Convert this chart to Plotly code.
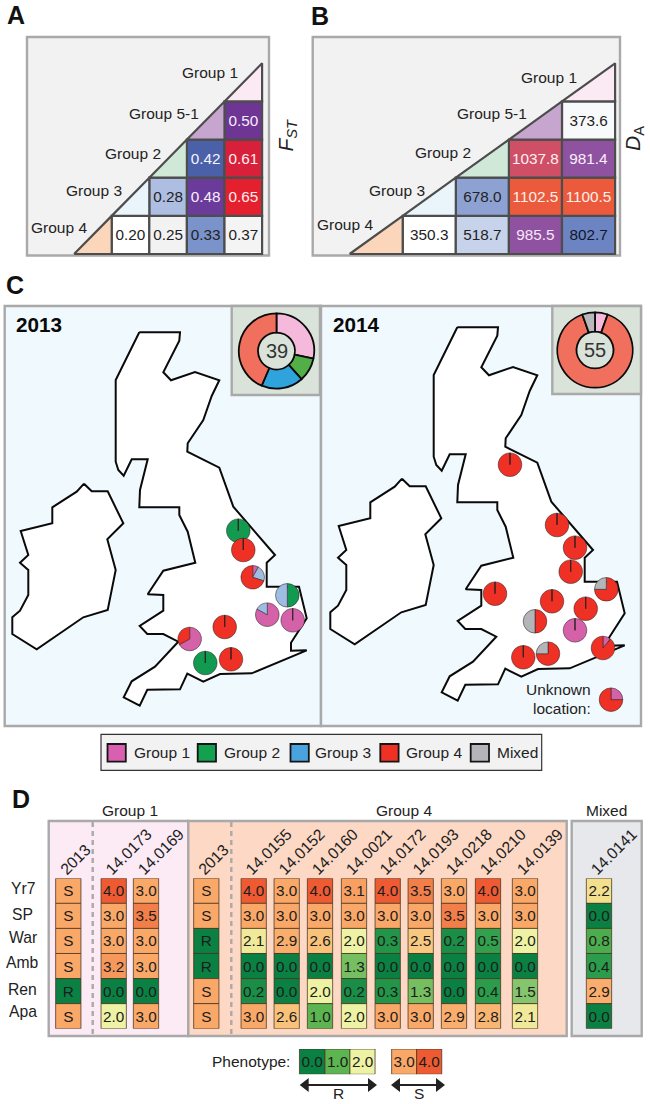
import plotly.graph_objects as go

W, H = 650, 1104
FONT = "Liberation Sans"
INK = "#222222"

# ---------- Panels A / B: pairwise tables (rows from the bottom, right-aligned) ----------
TRI_GROUPS = ["Group 4", "Group 3", "Group 2", "Group 5-1", "Group 1"]
TRI_COLORS = ["#fbd6bb", "#e9f5fb", "#cfe8d8", "#c6a6cf", "#fbe9f3"]
FST_ROWS = [["0.20", "0.25", "0.33", "0.37"], ["0.28", "0.48", "0.65"], ["0.42", "0.61"], ["0.50"]]
FST_FILL = [["#ffffff", "#f2f2f2", "#7a93cb", "#f4f4f4"], ["#aebee2", "#6a3b9b", "#e4202f"],
            ["#4a60a8", "#d8203a"], ["#6e3595"]]
FST_TEXT = [[INK, INK, INK, INK], [INK, "#fbeefa", "#ffeef0"], ["#f2f4ff", "#fff0f2"], ["#f6eefc"]]
DA_ROWS = [["350.3", "518.7", "985.5", "802.7"], ["678.0", "1102.5", "1100.5"], ["1037.8", "981.4"], ["373.6"]]
DA_FILL = [["#ffffff", "#c7d3ea", "#8f52a1", "#6d84c2"], ["#8da2d2", "#ec5a3e", "#ec5a3e"],
           ["#cf4f66", "#8f52a1"], ["#f7f9fb"]]
DA_TEXT = [[INK, INK, "#f8e8f8", "#10162e"], [INK, "#fff0e8", "#fff0e8"], ["#fff0f2", "#fbeffb"], [INK]]

# ---------- Panel C: maps (map units) ----------
GB_X = [139.3, 180, 179.3, 163.3, 171, 195, 219.3, 211.7, 203.3, 187.7, 187.3, 219.3, 233.3, 275, 266.7, 266.7, 299,
        306.7, 291, 291, 306.7, 251.7, 220, 203.3, 187.3, 180, 147.3, 139.7, 123.7, 131.7, 155, 178.3, 163.3, 147.3,
        139.7, 163.3, 163.3, 147.7, 163.3, 195.3, 187.7, 179.3, 179.3, 139.3, 140, 147.7, 131.7, 123.7, 118.3, 115.7,
        115.7, 139.3]
GB_Y = [332.3, 332.3, 340.7, 372.3, 380.3, 372, 380.3, 396, 420, 443.3, 451.7, 467.7, 506.7, 555, 562.7, 586.7, 586.7,
        618.3, 642.7, 650.7, 650.3, 673.3, 674, 681.7, 673.7, 689.3, 689.7, 705.7, 697.3, 681.3, 666.7, 641.7, 634, 634,
        626, 610.7, 595, 594.3, 570.7, 562.7, 531.7, 515, 507.3, 507.3, 490, 459.3, 459.3, 475.7, 470, 461.7,
        380, 332.3]
IE_X = [84, 91.7, 107.7, 123.3, 107.3, 115.7, 107.7, 83.3, 36.7, 12.3, 12.3, 20, 28.3, 28.3, 20, 28.3, 20.7, 52.3, 52.3,
        76.7, 84]
IE_Y = [483.7, 491.3, 491.3, 523.3, 539.3, 570, 610, 617.3, 649.3, 634, 617.3, 610.7, 595, 570, 562.7, 555, 531, 523.3,
        507.3, 491.7, 483.7]

GROUPS = ["Group 1", "Group 2", "Group 3", "Group 4", "Mixed"]
PIE_COLORS = ["#d561a8", "#139a51", "#9dbde3", "#ee3124", "#b3b5b8"]
DONUT_COLORS = ["#f5b9dc", "#53ae47", "#2ea3dc", "#f0705d", "#b7b7bc"]
LEGEND_COLORS = ["#d95fb0", "#12a14e", "#4aa3df", "#ee3124", "#b3b5b8"]

PIE13_X = [238.3, 243.3, 252.7, 287.3, 267.3, 292.7, 224.7, 189.7, 231, 205.3]
PIE13_Y = [530.7, 550, 577.3, 595.3, 614.7, 620.3, 627, 639, 659.3, 663]
PIE13_SHARES = [[0, 1, 0, 0, 0], [0, 0, 0, 1, 0], [.08, 0, .22, .70, 0], [0, .5, .5, 0, 0], [.83, 0, .17, 0, 0],
                [1, 0, 0, 0, 0], [0, 0, 0, 1, 0], [.67, 0, 0, .33, 0], [0, 0, 0, 1, 0], [0, 1, 0, 0, 0]]
PIE14_X = [192, 239, 257, 252.7, 288.3, 177, 234, 267.7, 217, 257, 285, 205.3, 230, 293]
PIE14_Y = [469.7, 530, 552.7, 576.7, 594.3, 598.7, 606.3, 613.7, 626.3, 635.3, 653, 662.3, 658.7, 704.7]
PIE14_SHARES = [[0, 0, 0, 1, 0], [0, 0, 0, 1, 0], [0, 0, 0, 1, 0], [0, 0, 0, 1, 0], [0, 0, 0, .75, .25],
                [0, 0, 0, 1, 0], [0, 0, 0, 1, 0], [0, 0, 0, 1, 0], [0, 0, 0, .5, .5], [1, 0, 0, 0, 0],
                [.11, 0, 0, .89, 0], [0, 0, 0, 1, 0], [0, 0, 0, .75, .25], [.25, 0, 0, .75, 0]]
DONUT13 = [11, 4, 7, 17, 0]
DONUT14 = [3, 0, 0, 49, 3]

# ---------- Panel D ----------
ROWS = ["Yr7", "SP", "War", "Amb", "Ren", "Apa"]
COL_LABELS = ["2013", "14.0173", "14.0169", "2013", "14.0155", "14.0152", "14.0160", "14.0021", "14.0172", "14.0193",
              "14.0218", "14.0210", "14.0139", "14.0141"]
COL_X = [68.3, 113.7, 146, 206.3, 253.7, 286.7, 320, 354, 387.7, 420.7, 454, 488, 525, 599]
PHENO = [[3, 3, 3, 3, 0, 3], [4, 3, 3, 3.2, 0, 2], [3, 3.5, 3, 3, 0, 3], [3, 3, 0, 0, 3, 3],
         [4, 3, 2.1, 0, .2, 3], [3, 3, 2.9, 0, 0, 2.6], [4, 3, 2.6, 0, 2, 1], [3.1, 3, 2, 1.3, .2, 2],
         [4, 3, .3, 0, .3, 3], [3.5, 3, 2.5, 0, 1.3, 3], [3, 3.5, .2, 0, 0, 2.9], [4, 3, .5, 0, .4, 2.8],
         [3, 3, 2, 0, 1.5, 2.1], [2.2, 0, .8, .4, 2.9, 0]]
PHENO_TEXT = [list("SSSSRS"), None, None, list("SSRRSS")] + [None] * 10
SCALE = [[0, "#0a8043"], [.1, "#2a9c4b"], [.25, "#5cb550"], [.375, "#85c56d"], [.5, "#eef2a4"],
         [.55, "#f3e08f"], [.625, "#f8c880"], [.75, "#f9a868"], [.875, "#f27f4a"], [1, "#ee5a32"]]
KEY_VALUES = [0, 1, 2, 3, 4]
KEY_X = [312, 337.5, 362.5, 404.2, 429.2]
KEY_SPANS = {"R": (301.7, 375), "S": (393, 443)}


def fx(x):
    return x / W


def fy(y):
    return 1 - y / H


shapes, annos, traces = [], [], []
layout_axes = {}


def make_axes(n, left, right, top, bottom, xr, yr, **xkw):
    sx = "" if n == 1 else str(n)
    layout_axes["xaxis" + sx] = dict(domain=[fx(left), fx(right)], range=xr, anchor="y" + sx, showgrid=False,
                                     zeroline=False, showticklabels=False, ticks="", fixedrange=True, **xkw)
    layout_axes["yaxis" + sx] = dict(domain=[fy(bottom), fy(top)], range=yr, anchor="x" + sx, showgrid=False,
                                     zeroline=False, showticklabels=False, ticks="", fixedrange=True)
    return "x" + sx, "y" + sx


def rect(x0, y0, x1, y1, fill, line="#a9a9a9", width=2.4):
    shapes.append(dict(type="rect", xref="paper", yref="paper", x0=fx(x0), x1=fx(x1), y0=fy(y0), y1=fy(y1),
                       fillcolor=fill, line=dict(color=line, width=width), layer="below"))


def text(x, y, s, size=15.5, color=INK, anchor="center", **kw):
    annos.append(dict(xref="paper", yref="paper", x=fx(x), y=fy(y), text=s, showarrow=False, xanchor=anchor,
                      yanchor="middle", font=dict(family=FONT, size=size, color=color), **kw))


def pairwise(n, panel, x0_px, unit, rows, fills, inks, labels):
    left, top, right, bottom = panel
    rect(left, top, right, bottom, "#f2f2f2")
    row_h = 38.14
    base_px = 254
    xr = [(left - x0_px) / unit, (right - x0_px) / unit]
    yr = [(base_px - bottom) / row_h, (base_px - top) / row_h]
    xa, ya = make_axes(n, left, right, top, bottom, xr, yr)
    bx, bb, bt, bf, bc = [], [], [], [], []
    for r, row in enumerate(rows):
        start = 4 - len(row)
        for c, val in enumerate(row):
            bx.append(start + c + .5)
            bb.append(r)
            bt.append(val)
            bf.append(fills[r][c])
            bc.append(inks[r][c])
    traces.append(go.Bar(x=bx, y=[1] * len(bx), base=bb, width=1, text=bt, textposition="inside", textangle=0,
                         insidetextanchor="middle", constraintext="none", cliponaxis=False,
                         textfont=dict(family=FONT, size=15.3, color=bc),
                         marker=dict(color=bf, line=dict(color="#4d4d4d", width=2.2)),
                         xaxis=xa, yaxis=ya, hoverinfo="skip", showlegend=False))
    for i, col in enumerate(TRI_COLORS):
        traces.append(go.Scatter(x=[i - 1, i, i, i - 1], y=[i, i, i + 1, i], mode="lines", fill="toself",
                                 fillcolor=col, line=dict(color="#4d4d4d", width=2.2), xaxis=xa, yaxis=ya,
                                 hoverinfo="skip", showlegend=False, cliponaxis=False))
    for name, (lx, ly) in zip(TRI_GROUPS, labels):
        text(lx, ly, name)


pairwise(1, (27, 37, 269, 255.5), 111.7, 37.6, FST_ROWS, FST_FILL, FST_TEXT,
         [(58.7, 227.3), (94, 190.7), (133, 153.3), (164, 113.7), (210.3, 72.3)])
pairwise(2, (312.7, 37, 620, 255.5), 402.7, 53.1, DA_ROWS, DA_FILL, DA_TEXT,
         [(344.5, 224), (397, 190), (442.7, 152.7), (491.7, 113.7), (548.8, 77)])
text(15.7, 15, "<b>A</b>", 25, "#111111")
text(320, 15.7, "<b>B</b>", 25, "#111111")
text(286, 135.5, "<i>F<sub>ST</sub></i>", 21, textangle=-90)
text(634, 139, "<i>D</i><sub>A</sub>", 21, textangle=-90)

# ---------- Panel C ----------
text(15, 285, "<b>C</b>", 25, "#111111")
DX14, DY14 = 318, -5


def map_panel(n, left, right, dx, dy, year, year_x, inset, donut, dc, count):
    top, bottom = 306, 726
    rect(left, top, right, bottom, "#f0f9fd")
    xa, ya = make_axes(n, left, right, top, bottom, [left - dx, right - dx], [bottom - dy, top - dy])
    for xs, ys in ((GB_X, GB_Y), (IE_X, IE_Y)):
        traces.append(go.Scatter(x=xs, y=ys, mode="lines", fill="toself", fillcolor="white",
                                 line=dict(color="#0a0a0a", width=2), xaxis=xa, yaxis=ya, hoverinfo="skip",
                                 showlegend=False))
    rect(*inset, "#d9e3da")
    text(year_x, 325, f"<b>{year}</b>", 20.7, "#0a0a0a", anchor="left")
    r = 37.7
    kept = [(v, c) for v, c in zip(donut, DONUT_COLORS) if v > 0]
    traces.append(go.Pie(values=[v for v, _ in kept], hole=.49, sort=False, direction="clockwise", rotation=0,
                         textinfo="none",
                         marker=dict(colors=[c for _, c in kept], line=dict(color="#0a0a0a", width=1.8)),
                         domain=dict(x=[fx(dc[0] - r), fx(dc[0] + r)], y=[fy(dc[1] + r), fy(dc[1] - r)]),
                         hoverinfo="skip", showlegend=False))
    text(dc[0], dc[1], str(count), 20, "#333333")


def site_pies(xs, ys, shares, dx, dy):
    r = 11.8
    for x, y, s in zip(xs, ys, shares):
        vals, cols = [], []
        for v, c in zip(s, PIE_COLORS):
            if v > 0:
                vals.append(v)
                cols.append(c)
        if len(vals) == 1:          # a one-group site keeps the radial tick of its pie
            vals.append(.0005)
            cols.append(cols[0])
        px_, py_ = x + dx, y + dy
        traces.append(go.Pie(values=vals, sort=False, direction="clockwise", rotation=0, textinfo="none",
                             marker=dict(colors=cols, line=dict(color="rgba(40,30,30,.65)", width=.8)),
                             domain=dict(x=[fx(px_ - r), fx(px_ + r)], y=[fy(py_ + r), fy(py_ - r)]),
                             hoverinfo="skip", showlegend=False))


map_panel(3, 4.7, 321, 0, 0, 2013, 14, (231.7, 306, 320, 395), DONUT13, (276.5, 351), 39)
map_panel(4, 321, 641, DX14, DY14, 2014, 331, (552.3, 306, 641, 394), DONUT14, (595, 350), 55)
site_pies(PIE13_X, PIE13_Y, PIE13_SHARES, 0, 0)
site_pies(PIE14_X, PIE14_Y, PIE14_SHARES, DX14, DY14)
text(593.3, 689, "Unknown", anchor="right")
text(593.3, 708, "location:", anchor="right")

# legend of panel C
rect(101, 734.3, 541.7, 770.3, "#f2f2f2", "#333333", 1.2)
for name, col, sx0, tx in zip(GROUPS, LEGEND_COLORS, [107.5, 197.7, 290.5, 380.3, 470.7],
                              [131.7, 221.7, 313.3, 404.3, 495]):
    rect(sx0, 744, sx0 + 18.3, 761.7, col, "#151515", 1.8)
    text(tx, 752.3, name, anchor="left")

# ---------- Panel D ----------
text(20.5, 799, "<b>D</b>", 25, "#111111")
rect(48.7, 821, 188.3, 1036, "#fcebf5")
rect(188.3, 821, 566.7, 1036, "#fdd9c5")
rect(571.7, 821, 641.7, 1036, "#e7e8ec")
for dash_x in (92.7, 231.3):
    shapes.append(dict(type="line", xref="paper", yref="paper", x0=fx(dash_x), x1=fx(dash_x), y0=fy(822), y1=fy(1035),
                       line=dict(color="#a9a9a9", width=2.4, dash="5px,4px"), layer="below"))
text(130, 810, "Group 1")
text(404.2, 810.7, "Group 4")
text(606.7, 810, "Mixed")

xa, ya = make_axes(5, 0, W, 878.3, 1028.7, [0, W], [6, 0])
layout_axes["xaxis5"].update(side="top", showticklabels=True, tickmode="array", tickvals=COL_X, ticktext=COL_LABELS,
                             tickangle=-45, tickfont=dict(family=FONT, size=15.8, color=INK),
                             ticklabelstandoff=-4, ticklabelshift=-7)
cx, cb, cv, ct = [], [], [], []
for x, col, labels in zip(COL_X, PHENO, PHENO_TEXT):
    for r, v in enumerate(col):
        cx.append(x)
        cb.append(r)
        cv.append(v)
        ct.append(labels[r] if labels else f"{v:.1f}")
traces.append(go.Bar(x=cx, y=[1] * len(cx), base=cb, width=25.3, text=ct, textposition="inside", textangle=0,
                     insidetextanchor="middle", constraintext="none",
                     textfont=dict(family=FONT, size=15.3, color="#1c1c1c"),
                     marker=dict(color=cv, colorscale=SCALE, cmin=0, cmax=4, showscale=False,
                                 line=dict(color="rgba(70,50,30,.75)", width=1)),
                     xaxis=xa, yaxis=ya, hoverinfo="skip", showlegend=False))
for name, y in zip(ROWS, [888.3, 914.3, 937.7, 962.7, 989, 1011.7]):
    text(22.5, y, name, 15.7)

# phenotype key
text(292.3, 1061.7, "Phenotype:", anchor="right")
xa, ya = make_axes(6, 295, 445, 1049, 1074.3, [295, 445], [0, 1])
traces.append(go.Bar(x=KEY_X, y=[1] * 5, width=25.1, text=[f"{v:.1f}" for v in KEY_VALUES], textposition="inside",
                     textangle=0, insidetextanchor="middle", constraintext="none",
                     textfont=dict(family=FONT, size=15.3, color="#1c1c1c"),
                     marker=dict(color=KEY_VALUES, colorscale=SCALE, cmin=0, cmax=4, showscale=False,
                                 line=dict(color="rgba(70,50,30,.75)", width=1)),
                     xaxis=xa, yaxis=ya, hoverinfo="skip", showlegend=False))
xa, ya = make_axes(7, 295, 450, 1077, 1093, [295, 450], [0, 1])
for name, (x0, x1) in KEY_SPANS.items():
    traces.append(go.Scatter(x=[x0 + 4, x1 - 4], y=[.5, .5], mode="lines+markers",
                             line=dict(color="#222222", width=2.2),
                             marker=dict(symbol=["triangle-left", "triangle-right"], size=12, color="#222222"),
                             xaxis=xa, yaxis=ya, hoverinfo="skip", showlegend=False, cliponaxis=False))
text(338.3, 1093.5, "R")
text(419.3, 1093.5, "S")

fig = go.Figure(traces)
fig.update_layout(width=W, height=H, margin=dict(l=0, r=0, t=0, b=0, pad=0), paper_bgcolor="white",
                  plot_bgcolor="rgba(0,0,0,0)", barmode="overlay", showlegend=False, shapes=shapes, annotations=annos,
                  font=dict(family=FONT, color=INK), **layout_axes)
fig.write_html("out.html", config=dict(displayModeBar=False),
               post_script="document.body.style.margin='0';")
